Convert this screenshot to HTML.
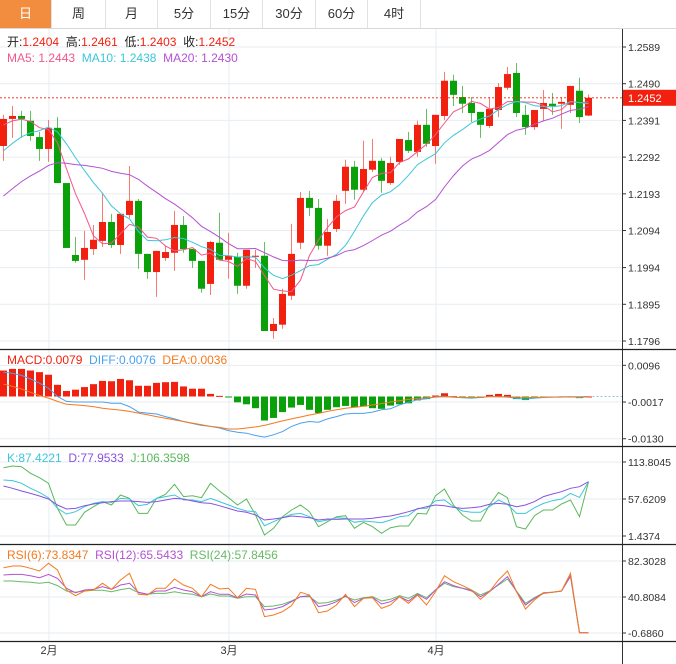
<!DOCTYPE html>
<html><head><meta charset="utf-8">
<style>
body{margin:0;background:#fff;width:676px;height:664px;overflow:hidden;font-family:"Liberation Sans","Noto Sans CJK SC",sans-serif}
.tabs{position:absolute;left:0;top:0;width:676px;height:28px;border-bottom:1px solid #d8d8d8;display:flex}
.tab{width:52px;height:28px;line-height:28px;text-align:center;font-size:13px;color:#333;border-right:1px solid #e2e2e2;box-sizing:border-box;font-family:"Liberation Sans","Noto Sans CJK SC",sans-serif}
.tab.on{background:#f28c3f;color:#fff}
svg{position:absolute;left:0;top:0}
</style></head><body>
<div class="tabs">
<div class="tab on">日</div>
<div class="tab" style="width:54px">周</div>
<div class="tab">月</div>
<div class="tab" style="width:53px">5分</div>
<div class="tab">15分</div>
<div class="tab" style="width:53px">30分</div>
<div class="tab">60分</div>
<div class="tab" style="width:53px">4时</div>
</div>
<svg id="c" width="676" height="664" font-family="Liberation Sans, Noto Sans CJK SC, sans-serif"></svg>
<script>
const priorCloses=[1.2000,1.2020,1.2040,1.2055,1.2065,1.2070,1.2080,1.2085,1.2090,1.2145,1.2200,1.2220,1.2240,1.2255,1.2280,1.2350,1.2370,1.2380,1.2400];
const opens=[1.2322,1.2395,1.2403,1.2390,1.2346,1.2314,1.2371,1.2222,1.2028,1.2015,1.2044,1.2066,1.2117,1.2055,1.2136,1.2174,1.2031,1.1982,1.2020,1.2034,1.2109,1.2044,1.2012,1.1950,1.2061,1.2015,1.2023,1.1945,1.2023,1.2026,1.1823,1.1840,1.1918,1.2061,1.2182,1.2155,1.2053,1.2098,1.2201,1.2266,1.2204,1.2258,1.2282,1.2222,1.2279,1.2338,1.2306,1.2379,1.2322,1.2403,1.2498,1.2454,1.2438,1.2414,1.2376,1.2419,1.2479,1.2519,1.2406,1.2373,1.2422,1.2436,1.2436,1.2433,1.2471,1.2404];
const highs=[1.2406,1.2430,1.2417,1.2417,1.2360,1.2392,1.2400,1.2222,1.2077,1.2093,1.2109,1.2196,1.2139,1.2139,1.2268,1.2179,1.2031,1.2039,1.2053,1.2147,1.2133,1.2044,1.2012,1.2066,1.2142,1.2088,1.2034,1.2042,1.2042,1.2063,1.1858,1.1937,1.2112,1.2198,1.2201,1.2179,1.2125,1.2190,1.2285,1.2282,1.2336,1.2341,1.2290,1.2293,1.2341,1.2360,1.2390,1.2422,1.2406,1.2522,1.2514,1.2484,1.2454,1.2414,1.2454,1.2492,1.2535,1.2546,1.2433,1.2419,1.2473,1.2465,1.2454,1.2484,1.2506,1.2461];
const lows=[1.2282,1.2344,1.2344,1.2336,1.2282,1.2279,1.2222,1.2047,1.2007,1.1961,1.2028,1.2050,1.2047,1.2031,1.2128,1.1991,1.1964,1.1915,1.2012,1.1985,1.2034,1.1993,1.1926,1.1920,1.2015,1.1964,1.1923,1.1937,1.1993,1.1823,1.1802,1.1829,1.1907,1.2044,1.2133,1.2042,1.2026,1.2090,1.2166,1.2177,1.2198,1.2252,1.2196,1.2217,1.2271,1.2303,1.2293,1.2320,1.2274,1.2392,1.2430,1.2411,1.2387,1.2344,1.2371,1.2400,1.2473,1.2400,1.2352,1.2365,1.2390,1.2406,1.2368,1.2411,1.2384,1.2403];
const closes=[1.2395,1.2403,1.2395,1.2349,1.2314,1.2371,1.2222,1.2047,1.2012,1.2047,1.2069,1.2117,1.2055,1.2139,1.2174,1.2031,1.1982,1.2039,1.2036,1.2109,1.2044,1.2012,1.1937,1.2063,1.2015,1.2026,1.1945,1.2042,1.2026,1.1823,1.1842,1.1923,1.2031,1.2182,1.2155,1.2053,1.2090,1.2174,1.2266,1.2204,1.2260,1.2282,1.2228,1.2276,1.2341,1.2309,1.2379,1.2328,1.2406,1.2498,1.2460,1.2436,1.2411,1.2379,1.2422,1.2481,1.2516,1.2411,1.2373,1.2419,1.2438,1.2430,1.2441,1.2484,1.2400,1.2452];
// MACD values (x1e-4)
const macdHist=[80,85,85,80,75,67,36,17,21,29,38,48,47,54,50,33,33,42,44,45,31,24,24,8,2,-2,-18,-24,-36,-74,-66,-48,-34,-26,-41,-51,-41,-33,-29,-34,-31,-36,-38,-28,-24,-21,-12,-8,3,10,1,-4,-4,-4,5,8,5,-8,-11,-3,-2,-2,-1,-1,-5,0];
const diffVals=[75,71,65,54,41,26,0,-15,-17,-17,-17,-17,-21,-21,-31,-48,-51,-54,-62,-69,-77,-83,-89,-92,-97,-105,-110,-113,-120,-125,-118,-108,-92,-82,-77,-79,-69,-62,-54,-52,-52,-48,-41,-38,-26,-18,-10,-7,-1,1,-2,-4,-5,-3,0,-1,-2,-6,-8,-5,-3,-2,-2,-1,-3,-1];
const deaVals=[38,31,23,13,3,-5,-15,-24,-26,-28,-31,-36,-39,-42,-46,-51,-56,-62,-67,-72,-77,-82,-87,-92,-95,-100,-100,-97,-94,-89,-82,-75,-69,-63,-57,-52,-46,-41,-36,-33,-30,-26,-22,-17,-13,-9,-6,-4,-2,-1,-2,-3,-3,-2,-1,-1,-1,-2,-3,-3,-2,-2,-1,-1,-1,0];
const kVals=[86.5,85.5,81.4,73.8,67.7,59.6,43.4,34.8,38.4,46.0,51.0,53.6,52.5,58.6,57.6,47.5,49.5,58.6,61.2,63.7,56.1,56.1,53.6,58.6,53.6,48.5,43.4,39.4,38.4,17.1,23.2,29.3,34.3,35.8,30.8,23.2,25.7,29.3,28.3,22.2,24.2,23.2,21.7,25.7,30.8,32.3,43.4,43.4,55.1,56.1,46.0,39.4,37.4,37.4,46.0,56.1,49.5,35.8,35.8,44.4,51.0,55.1,57.6,66.2,60.1,83.9];
const dVals=[77.4,73.8,69.8,66.2,62.2,57.6,48.5,42.4,43.4,47.5,50.0,52.0,53.6,54.6,54.6,53.6,52.5,53.6,56.1,58.6,57.6,54.6,52.0,51.0,47.5,43.4,39.4,37.4,33.3,25.7,27.2,29.3,31.8,30.8,29.3,25.7,27.2,26.7,27.2,27.2,27.2,28.3,30.3,31.8,34.8,38.4,42.4,46.0,48.5,47.5,44.9,43.4,44.4,46.0,49.5,51.0,49.5,46.0,48.5,53.6,61.2,65.2,68.7,73.8,76.3,83.9];
const jVals=[105.2,107.7,106.7,96.6,90.0,81.4,43.4,18.1,18.1,37.4,46.0,53.6,48.5,63.7,58.6,35.8,35.8,58.6,64.7,79.9,61.2,62.7,59.6,81.4,69.8,59.6,48.5,57.6,33.3,2.9,13.1,30.8,40.9,48.5,38.4,15.6,23.2,30.8,32.3,13.1,22.2,15.6,5.5,14.1,16.6,16.6,35.8,34.8,62.7,72.8,48.5,33.3,24.2,24.2,48.5,67.7,59.6,15.6,12.1,32.3,40.9,40.9,50.0,56.1,30.8,83.9];
const rsi6=[74.6,76.5,76.5,73.9,70.8,79.6,71.9,48.9,42.3,47.7,48.9,56.6,49.6,60.4,68.1,43.9,43.1,50.8,50.8,61.6,54.6,50.8,41.2,55.4,50.0,50.8,40.0,50.8,49.6,18.1,20.1,23.9,30.8,46.2,43.1,22.7,24.7,31.6,43.9,29.7,39.3,40.0,27.7,31.6,41.2,33.5,43.1,31.6,46.9,65.4,58.5,53.9,48.9,38.1,46.9,60.4,70.8,46.9,27.0,37.4,45.8,46.2,47.7,68.1,-0.3,-0.3];
const rsi12=[66.2,66.9,66.9,65.4,63.1,66.9,62.3,50.8,45.8,48.9,49.6,52.7,49.6,54.6,56.6,46.2,43.9,47.7,47.7,51.9,48.9,46.9,41.2,46.9,43.9,43.9,40.0,44.3,43.1,25.8,27.0,29.7,35.4,41.2,42.3,29.7,31.6,35.4,42.0,34.3,39.3,40.4,32.7,35.4,41.2,36.2,43.9,38.1,48.9,58.5,53.9,50.8,47.7,41.2,46.9,55.4,64.3,46.9,31.6,39.3,45.0,46.2,47.7,65.4,-0.3,-0.3];
const rsi24=[59.2,59.2,58.5,57.7,56.6,57.7,53.9,47.7,46.2,47.7,48.5,48.5,46.9,49.3,50.8,45.8,43.9,45.0,45.0,46.9,45.0,43.9,41.2,44.3,42.0,42.0,39.3,41.2,41.2,29.7,30.4,32.4,36.2,41.2,41.2,33.5,34.3,37.4,41.2,37.4,40.0,41.2,36.2,38.1,42.3,39.3,45.0,40.0,48.9,56.6,52.7,50.8,48.9,43.1,47.7,54.6,61.6,47.7,33.5,40.0,45.8,46.2,47.7,64.3,-0.3,-0.3];
const priceTicks=[1.2589,1.2490,1.2391,1.2292,1.2193,1.2094,1.1994,1.1895,1.1796];
const macdTicks=[0.0096,-0.0017,-0.0130];
const kdjTicks=[113.8045,57.6209,1.4374];
const rsiTicks=[82.3028,40.8084,-0.6860];
const monthLabels=["2月","3月","4月"];
const monthIdx=[5,25,48];

const S=document.getElementById('c');const NS='http://www.w3.org/2000/svg';
function mk(t,a,p){const e=document.createElementNS(NS,t);for(const k in a)e.setAttribute(k,a[k]);(p||S).appendChild(e);return e;}
const RED='#f2200f',GREEN='#0aa00a',AX=622;
const X=i=>3.5+9*i;
const yP=p=>47+(1.2589-p)/0.0793*294;
const yM=v=>396.5-v*3248;
const yMs=v=>yM(v/10000);
const yK=v=>462+(113.8045-v)*74/112.3671;
const yR=v=>561+(82.3028-v)*72/82.9888;
const defs=mk('defs',{});
[['cm',30,319],['cd',350,96],['ck',447,97],['cr',545,96]].forEach(c=>{const cp=mk('clipPath',{id:c[0]},defs);mk('rect',{x:0,y:c[1],width:AX,height:c[2]},cp);});
priceTicks.forEach(t=>{const l=mk('line',{x1:0,x2:AX,y1:yP(t),y2:yP(t),stroke:'#e6edf1'});});
macdTicks.forEach(t=>mk('line',{x1:0,x2:AX,y1:yM(t),y2:yM(t),stroke:'#e6edf1'}));
kdjTicks.forEach(t=>mk('line',{x1:0,x2:AX,y1:yK(t),y2:yK(t),stroke:'#e6edf1'}));
rsiTicks.forEach(t=>mk('line',{x1:0,x2:AX,y1:yR(t),y2:yR(t),stroke:'#e6edf1'}));
monthIdx.forEach((m,j)=>{const x=X(m)+0.5;mk('line',{x1:x,x2:x,y1:29,y2:641,stroke:'#e6edf1'});
 const t=mk('text',{x:x,y:654,'font-size':11,'text-anchor':'middle',fill:'#333'});t.textContent=monthLabels[j];});
const all=priorCloses.concat(closes);const P=priorCloses.length;
function ma(n,i){const j=i+P;let s=0,c=0;for(let k=Math.max(0,j-n+1);k<=j;k++){s+=all[k];c++;}return s/c;}
function poly(vals,fy,color,clip,name,w){let d='';vals.forEach((v,i)=>{if(v==null)return;d+=(d?'L':'M')+X(i).toFixed(1)+' '+fy(v).toFixed(1);});
 const p=mk('path',{d:d,fill:'none',stroke:color,'stroke-width':w||1,'clip-path':'url(#'+clip+')'});}
const g=mk('g',{'clip-path':'url(#cm)'});
closes.forEach((c,i)=>{const o=opens[i],up=c>=o,col=up?RED:GREEN,x=X(i);
 const w=mk('line',{x1:x,x2:x,y1:yP(highs[i]),y2:yP(lows[i]),stroke:up?'#f77b70':'#63c063'},g);
 
 const t=Math.min(yP(o),yP(c)),h=Math.max(1,Math.abs(yP(o)-yP(c)));
 const r=mk('rect',{x:x-3.5,y:t,width:7,height:h,fill:col},g);
 });
poly(closes.map((_,i)=>ma(5,i)),yP,'#f0588a','cm','ma5-line');
poly(closes.map((_,i)=>ma(10,i)),yP,'#3cc6da','cm','ma10-line');
poly(closes.map((_,i)=>ma(20,i)),yP,'#b451d2','cm','ma20-line');
// MACD
macdHist.forEach((h,i)=>{const y0=yMs(0),y1=yMs(h);const r=mk('rect',{x:X(i)-3.5,y:Math.min(y0,y1),width:7,height:Math.max(1,Math.abs(y1-y0)),fill:h>=0?RED:GREEN,'clip-path':'url(#cd)'});
 });
poly(diffVals,yMs,'#4aa0ee','cd','diff-line');poly(deaVals,yMs,'#f57a1e','cd','dea-line');
mk('line',{x1:X(65)+4,x2:AX,y1:yM(0),y2:yM(0),stroke:'#8fc8e8','stroke-dasharray':'2,2'});
// KDJ
poly(jVals,yK,'#5cb85c','ck','j-line');poly(kVals,yK,'#3cc6da','ck','k-line');poly(dVals,yK,'#8a52dd','ck','d-line');
// RSI
poly(rsi24,yR,'#66bb66','cr','rsi24-line');poly(rsi12,yR,'#b451d2','cr','rsi12-line');poly(rsi6,yR,'#f57a1e','cr','rsi6-line');
// current price
mk('line',{x1:0,x2:AX,y1:yP(1.2452),y2:yP(1.2452),stroke:RED,'stroke-dasharray':'2,2','stroke-width':0.8});
const tag=mk('rect',{x:AX+1,y:yP(1.2452)-8,width:54,height:16,fill:RED});
const tt=mk('text',{x:628,y:yP(1.2452)+4,'font-size':11,fill:'#fff'});tt.textContent='1.2452';
mk('line',{x1:AX+0.5,x2:AX+0.5,y1:29,y2:664,stroke:'#333'});
[349.5,446.5,544.5,641.5].forEach(y=>mk('line',{x1:0,x2:676,y1:y,y2:y,stroke:'#222','stroke-width':1.2}));
function ticks(arr,fy,fmt){arr.forEach(t=>{const y=fy(t);mk('line',{x1:AX,x2:AX+4,y1:y,y2:y,stroke:'#333'});const e=mk('text',{x:628,y:y+4,'font-size':10.5,fill:'#333'});e.textContent=fmt(t);});}
ticks(priceTicks,yP,t=>t.toFixed(4));ticks(macdTicks,yM,t=>t.toFixed(4));ticks(kdjTicks,yK,t=>t.toFixed(4));ticks(rsiTicks,yR,t=>t.toFixed(4));
function legend(y,parts,name){const t=mk('text',{x:7,y:y,'font-size':12});
 parts.forEach(p=>{const s=mk('tspan',{fill:p[1]},t);s.textContent=p[0];});}
legend(46,[['开:','#222'],['1.2404  ',RED],['高:','#222'],['1.2461  ',RED],['低:','#222'],['1.2403  ',RED],['收:','#222'],['1.2452',RED]],'ohlc-legend');
legend(62,[['MA5: 1.2443  ','#f0588a'],['MA10: 1.2438  ','#3cc6da'],['MA20: 1.2430','#b451d2']],'ma-legend');
legend(364,[['MACD:0.0079  ',RED],['DIFF:0.0076  ','#4aa0ee'],['DEA:0.0036','#f57a1e']],'macd-legend');
legend(462,[['K:87.4221  ','#3cc6da'],['D:77.9533  ','#8a52dd'],['J:106.3598','#5cb85c']],'kdj-legend');
legend(559,[['RSI(6):73.8347  ','#f57a1e'],['RSI(12):65.5433  ','#b451d2'],['RSI(24):57.8456','#66bb66']],'rsi-legend');
document.querySelectorAll('text').forEach(t=>t.style.whiteSpace='pre');
</script>
</body></html>
